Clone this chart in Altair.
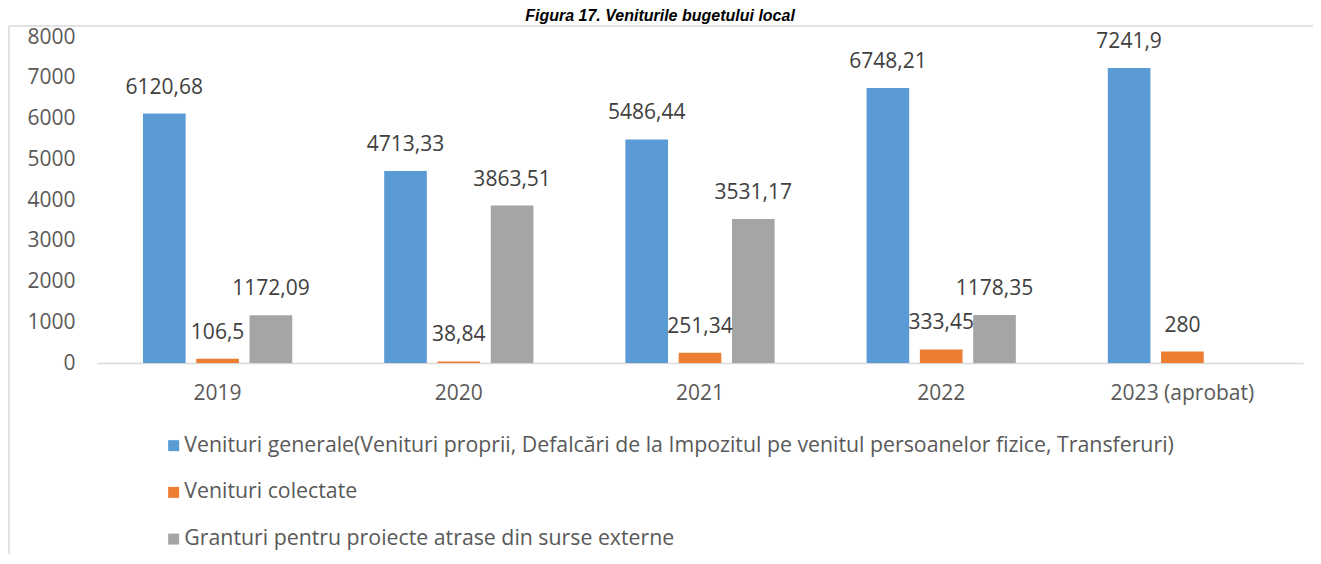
import altair as alt
import pandas as pd

title_text = "Figura 17. Veniturile bugetului local"
years = ["2019", "2020", "2021", "2022", "2023 (aprobat)"]
series = [
    "Venituri generale(Venituri proprii, Defalcări de la Impozitul pe venitul persoanelor fizice, Transferuri)",
    "Venituri colectate",
    "Granturi pentru proiecte atrase din surse externe",
]
generale = [6120.68, 4713.33, 5486.44, 6748.21, 7241.9]
colectate = [106.5, 38.84, 251.34, 333.45, 280]
granturi = [1172.09, 3863.51, 3531.17, 1178.35, None]
colors = ["#5B9BD5", "#ED7D31", "#A5A5A5"]
y_ticks = [0, 1000, 2000, 3000, 4000, 5000, 6000, 7000, 8000]

rows = []
for s, vals in zip(series, [generale, colectate, granturi]):
    for y, v in zip(years, vals):
        if v is None:
            continue
        rows.append({"year": y, "series": s, "value": v,
                     "label": f"{v:g}".replace(".", ",")})
df = pd.DataFrame(rows)
one = pd.DataFrame([{"t": title_text}])

FONT = "Open Sans"

base = alt.Chart(df).encode(
    x=alt.X("year:N", sort=years,
            scale=alt.Scale(paddingInner=0, paddingOuter=0),
            axis=alt.Axis(title=None, labelAngle=0, ticks=False, labelPadding=19,
                          labelFontSize=21, labelColor="#595959", labelFont=FONT,
                          domainColor="#d9d9d9", domainWidth=1.5)),
    xOffset=alt.XOffset("series:N", sort=series,
                        scale=alt.Scale(paddingInner=0.2, paddingOuter=0.8625)),
)

bars = base.mark_bar().encode(
    y=alt.Y("value:Q", scale=alt.Scale(domain=[0, 8000], nice=False),
            axis=alt.Axis(values=y_ticks, format="d", title=None, grid=False,
                          ticks=False, domain=False, labelPadding=22,
                          labelFontSize=21, labelColor="#595959", labelFont=FONT)),
    color=alt.Color("series:N", sort=series,
                    scale=alt.Scale(domain=series, range=colors),
                    legend=alt.Legend(orient="none", legendX=66, legendY=398,
                                      title=None, symbolType="square",
                                      symbolSize=121, symbolStrokeWidth=0,
                                      labelFontSize=21.3, labelColor="#595959",
                                      labelFont=FONT, rowPadding=24.7,
                                      labelLimit=1300, direction="vertical",
                                      padding=0, labelOffset=0)),
)

labels = base.mark_text(dy=-26, baseline="middle", fontSize=21,
                        color="#404040", font=FONT).encode(
    y=alt.Y("value:Q"),
    text="label:N",
)

border_top = alt.Chart(one).mark_rule(color="#d9d9d9", strokeWidth=1.5).encode(
    x=alt.value(-88), x2=alt.value(1216), y=alt.value(-11),
)
border_left = alt.Chart(one).mark_rule(color="#d9d9d9", strokeWidth=1.5).encode(
    x=alt.value(-88), y=alt.value(-11), y2=alt.value(600),
)

title = alt.Chart(one).mark_text(font="Liberation Sans", fontWeight="bold",
                                 fontStyle="italic", fontSize=16,
                                 align="center", baseline="alphabetic",
                                 color="#000000").encode(
    x=alt.value(563), y=alt.value(-16), text="t:N",
)

chart = alt.layer(border_top, border_left, title, bars, labels).properties(
    width=1206, height=326,
    autosize=alt.AutoSizeParams(type="none"),
    padding={"left": 89, "top": 29, "right": 10, "bottom": 191},
).configure_view(strokeWidth=0)

chart.save("out.html", embed_options={"renderer": "svg", "actions": False})
